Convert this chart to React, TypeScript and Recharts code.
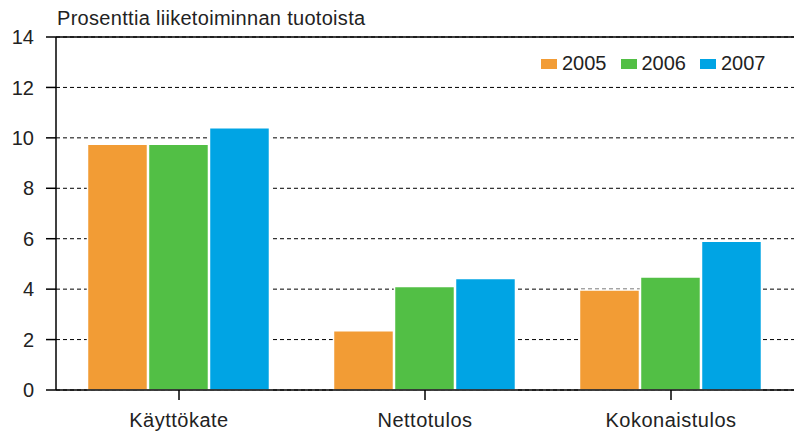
import {
  BarChart,
  Bar,
  XAxis,
  YAxis,
  CartesianGrid,
  ReferenceLine,
} from 'recharts';

const categories = ['Käyttökate', 'Nettotulos', 'Kokonaistulos'];
const values2005 = [9.75, 2.35, 3.97];
const values2006 = [9.75, 4.1, 4.48];
const values2007 = [10.4, 4.42, 5.9];
const yTicks = [0, 2, 4, 6, 8, 10, 12, 14];

const series = [
  { key: 'y2005', name: '2005', color: '#F29C35' },
  { key: 'y2006', name: '2006', color: '#52BF45' },
  { key: 'y2007', name: '2007', color: '#00A4E4' },
];

const data = categories.map((c, i) => ({
  category: c,
  y2005: values2005[i],
  y2006: values2006[i],
  y2007: values2007[i],
}));

const FONT = '"Liberation Sans", Arial, sans-serif';

function YearLegend() {
  return (
    <div
      style={{
        position: 'absolute',
        left: 541,
        top: 52,
        display: 'flex',
        fontFamily: FONT,
        fontSize: 20,
        color: '#222',
      }}
    >
      {series.map((s) => (
        <div key={s.key} style={{ display: 'flex', alignItems: 'center', marginRight: 14 }}>
          <span style={{ width: 16, height: 10, background: s.color, marginRight: 5 }} />
          <span>{s.name}</span>
        </div>
      ))}
    </div>
  );
}

export default function App() {
  return (
    <div style={{ position: 'absolute', left: 0, top: 0, width: 794, height: 431, background: '#fff' }}>
      <div
        style={{
          position: 'absolute',
          left: 57,
          top: 7,
          fontFamily: FONT,
          fontSize: 20,
          color: '#222',
          letterSpacing: 0.3,
          whiteSpace: 'nowrap',
        }}
      >
        Prosenttia liiketoiminnan tuotoista
      </div>
      <BarChart
        width={794}
        height={431}
        data={data}
        margin={{ top: 37, right: 0, left: 0, bottom: 11 }}
        barCategoryGap="12.8%"
        barGap={1}
      >
        <CartesianGrid vertical={false} stroke="#000" strokeDasharray="4 3" />
        <ReferenceLine y={14} stroke="#000" strokeWidth={1.5} />
        <XAxis
          dataKey="category"
          height={30}
          stroke="#000"
          strokeWidth={1.5}
          tickSize={10}
          tickMargin={13}
          tick={{ fill: '#222', fontSize: 20, fontFamily: FONT, letterSpacing: 0.5 }}
        />
        <YAxis
          domain={[0, 14]}
          ticks={yTicks}
          width={56}
          stroke="#000"
          strokeWidth={1.5}
          tickSize={10}
          tickMargin={12}
          tick={{ fill: '#222', fontSize: 20, fontFamily: FONT }}
        />
        {series.map((s) => (
          <Bar
            key={s.key}
            dataKey={s.key}
            name={s.name}
            fill={s.color}
            stroke="#fff"
            strokeWidth={1.5}
            isAnimationActive={false}
          />
        ))}
      </BarChart>
      <YearLegend />
    </div>
  );
}
